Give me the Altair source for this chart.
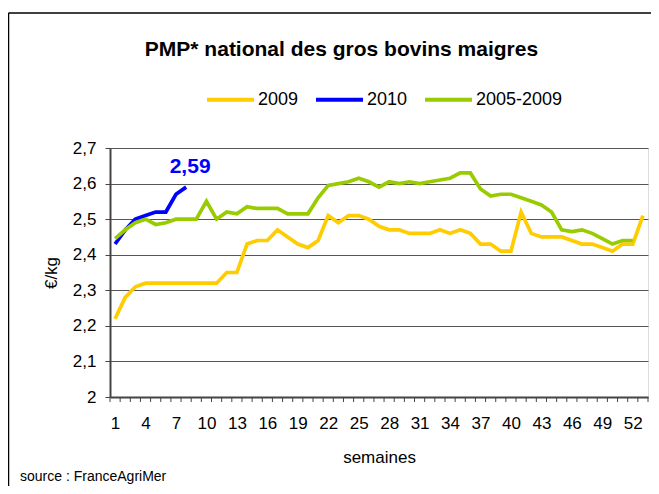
import altair as alt
import pandas as pd

# ---- data ----
weeks_2009 = list(range(1, 54))
values_2009 = [2.22, 2.28, 2.31, 2.32, 2.32, 2.32, 2.32, 2.32, 2.32, 2.32, 2.32,
               2.35, 2.35, 2.43, 2.44, 2.44, 2.47, 2.45, 2.43, 2.42, 2.44, 2.51,
               2.49, 2.51, 2.51, 2.50, 2.48, 2.47, 2.47, 2.46, 2.46, 2.46, 2.47,
               2.46, 2.47, 2.46, 2.43, 2.43, 2.41, 2.41, 2.52, 2.46, 2.45, 2.45,
               2.45, 2.44, 2.43, 2.43, 2.42, 2.41, 2.43, 2.43, 2.51]
weeks_2010 = list(range(1, 9))
values_2010 = [2.43, 2.47, 2.50, 2.51, 2.52, 2.52, 2.57, 2.59]
weeks_avg = list(range(1, 53))
values_avg = [2.445, 2.47, 2.49, 2.50, 2.485, 2.49, 2.50, 2.50, 2.50, 2.55,
              2.50, 2.52, 2.515, 2.535, 2.53, 2.53, 2.53, 2.515, 2.515, 2.515,
              2.56, 2.595, 2.60, 2.605, 2.615, 2.605, 2.59, 2.605, 2.60, 2.605,
              2.60, 2.605, 2.61, 2.615, 2.63, 2.63, 2.585, 2.565, 2.57, 2.57,
              2.56, 2.55, 2.54, 2.52, 2.47, 2.465, 2.47, 2.46, 2.445, 2.43,
              2.44, 2.44]
series_names = ["2009", "2010", "2005-2009"]
series_colors = ["#FFCC00", "#0000FF", "#99CC00"]
x_label_values = list(range(1, 54, 3))
x_tick_bounds = [w + 0.5 for w in range(0, 54)]
y_tick_values = [2.0, 2.1, 2.2, 2.3, 2.4, 2.5, 2.6, 2.7]
title_text = "PMP* national des gros bovins maigres"
source_text = "source : FranceAgriMer"

rows = []
for name, ws, vs in [("2009", weeks_2009, values_2009),
                     ("2010", weeks_2010, values_2010),
                     ("2005-2009", weeks_avg, values_avg)]:
    for w, v in zip(ws, vs):
        rows.append({"semaine": w, "prix": v, "serie": name})
df = pd.DataFrame(rows)

ann = pd.DataFrame({"semaine": [weeks_2010[-1]], "prix": [values_2010[-1]],
                    "label": [f"{values_2010[-1]:.2f}".replace(".", ",")]})
ticks_df = pd.DataFrame({"semaine": x_tick_bounds})

FONT = "Liberation Sans"
W, H = 538, 249

x_scale = alt.Scale(domain=[0.5, 53.5], nice=False, zero=False)
y_scale = alt.Scale(domain=[2.0, 2.7], nice=False, zero=False)

x_axis = alt.Axis(values=x_label_values, tickSize=0, labelPadding=18,
                  grid=False, labelFontSize=17, titleFontSize=17,
                  titleFontWeight="normal", titlePadding=18,
                  domainColor="#444", domainWidth=2, labelColor="#000",
                  titleColor="#000", labelFlush=False, labelOverlap=False)
y_axis = alt.Axis(values=y_tick_values, tickSize=5, tickColor="#444",
                  labelPadding=9, labelFontSize=17, titleFontSize=17,
                  titleFontWeight="normal", titlePadding=12,
                  domainColor="#444", domainWidth=2,
                  gridColor="#555", gridWidth=1, labelColor="#000",
                  titleColor="#000", labelOverlap=False, labelFlush=False,
                  labelExpr="datum.value == 2 ? '2' : replace(format(datum.value, '.1f'), '.', ',')")

X = alt.X("semaine:Q", scale=x_scale, title="semaines", axis=x_axis)
Y = alt.Y("prix:Q", scale=y_scale, title="€/kg", axis=y_axis)

lines = alt.Chart(df).mark_line(strokeWidth=3.7).encode(
    x=X,
    y=Y,
    color=alt.Color("serie:N",
                    scale=alt.Scale(domain=series_names, range=series_colors),
                    sort=series_names,
                    legend=alt.Legend(title=None, orient="none", direction="horizontal",
                                      legendX=95, legendY=-74, symbolType="stroke",
                                      symbolStrokeWidth=4, symbolSize=2209,
                                      labelFontSize=18, labelOffset=2,
                                      columnPadding=9, labelColor="#000",
                                      labelFont=FONT)),
    detail="serie:N",
)

xticks = alt.Chart(ticks_df).mark_rule(color="#444", strokeWidth=1).encode(
    x=X,
    y=alt.value(H),
    y2=alt.value(H + 5),
)

label = alt.Chart(ann).mark_text(color="#0000FF", fontSize=21, fontWeight="bold",
                                 font=FONT, dx=4, dy=-20).encode(
    x=X,
    y=Y,
    text="label:N",
)

title = alt.Chart(ann).mark_text(fontSize=21, font=FONT, fontWeight="bold",
                                 align="center", baseline="middle", color="#000").encode(
    x=alt.value(231.5), y=alt.value(-98), text=alt.value(title_text))

source = alt.Chart(ann).mark_text(fontSize=14, font=FONT, align="left",
                                  baseline="middle", color="#000").encode(
    x=alt.value(-90), y=alt.value(329), text=alt.value(source_text))

border_top = alt.Chart(ann).mark_rule(color="#000", strokeWidth=1.5).encode(
    x=alt.value(-101.5), x2=alt.value(W + 10), y=alt.value(-135))
border_left = alt.Chart(ann).mark_rule(color="#000", strokeWidth=1.5).encode(
    x=alt.value(-101.5), y=alt.value(-135), y2=alt.value(H + 95))

chart = alt.layer(lines, xticks, label, border_top, border_left, title, source).properties(
    width=W, height=H,
    padding={"left": 102, "top": 140, "right": 3, "bottom": 89},
    autosize=alt.AutoSizeParams(type="none"),
).configure_view(stroke="#888", strokeWidth=2).configure(
    font=FONT, background="white"
)

chart.save("out.html", embed_options={"renderer": "svg", "actions": False})
